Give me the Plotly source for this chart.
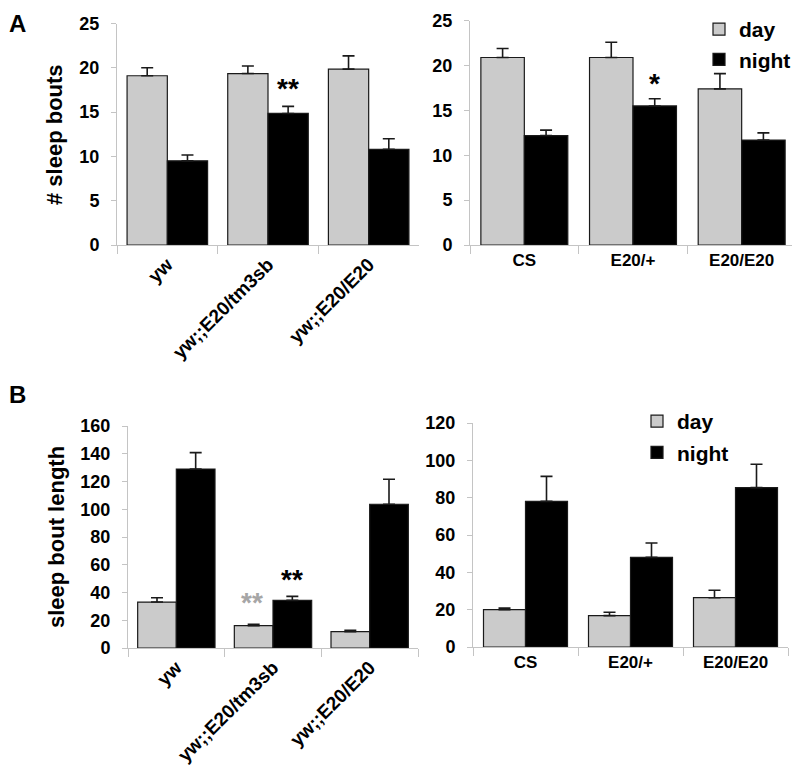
import plotly.graph_objects as go

# ---------------- data ----------------
cats_left = ["yw", "yw;;E20/tm3sb", "yw;;E20/E20"]
cats_right = ["CS", "E20/+", "E20/E20"]

# Panel A: # sleep bouts
a_left_day = [19.1, 19.35, 19.85]
a_left_day_err = [0.9, 0.85, 1.5]
a_left_night = [9.5, 14.85, 10.8]
a_left_night_err = [0.65, 0.8, 1.2]

a_right_day = [20.9, 20.9, 17.4]
a_right_day_err = [1.0, 1.7, 1.7]
a_right_night = [12.2, 15.5, 11.7]
a_right_night_err = [0.6, 0.8, 0.8]

# Panel B: sleep bout length
b_left_day = [33.1, 16.1, 11.8]
b_left_day_err = [3.1, 0.9, 0.9]
b_left_night = [129.0, 34.3, 103.6]
b_left_night_err = [11.8, 2.9, 18.0]

b_right_day = [20.0, 16.8, 26.4]
b_right_day_err = [0.9, 1.8, 4.0]
b_right_night = [78.0, 48.0, 85.4]
b_right_night_err = [13.4, 7.7, 12.5]

series_names = ["day", "night"]

# ---------------- style ----------------
FONT = "Liberation Sans, Arial, sans-serif"
DAY_COL = "#cbcbcb"
NIGHT_COL = "#000000"
AXIS_COL = "#c4c4c4"

# the page body has an 8px default margin: size the figure so it fits the window
OFF = 8
W, H = 800 - OFF, 775 - OFF

def fx(p):
    return (p - OFF) / W
def fy(p):
    return (H - (p - OFF)) / H
def px_x(a, b):
    return [fx(a), fx(b)]
def px_y(top, bottom):
    return [fy(bottom), fy(top)]

fig = go.Figure()

panels = [
    ("x", "y", cats_left, a_left_day, a_left_day_err, a_left_night, a_left_night_err, None),
    ("x2", "y2", cats_right, a_right_day, a_right_day_err, a_right_night, a_right_night_err, "legend"),
    ("x3", "y3", cats_left, b_left_day, b_left_day_err, b_left_night, b_left_night_err, None),
    ("x4", "y4", cats_right, b_right_day, b_right_day_err, b_right_night, b_right_night_err, "legend2"),
]

for xa, ya, cats, d, de, n, ne, leg in panels:
    for name, vals, errs, col in [(series_names[0], d, de, DAY_COL), (series_names[1], n, ne, NIGHT_COL)]:
        fig.add_trace(go.Bar(
            x=cats, y=vals, name=name,
            xaxis=xa, yaxis=ya,
            marker=dict(color=col, line=dict(color="#1a1a1a", width=1.2)),
            error_y=dict(type="data", symmetric=False, array=errs,
                         arrayminus=[0] * len(errs),
                         color="#1a1a1a", thickness=1.6, width=6),
            showlegend=leg is not None,
            legend=leg if leg else "legend",
            legendgroup=(leg or "") + name,
        ))

def xaxis_style(domain, angle, anchor, size):
    return dict(domain=domain, anchor=anchor, type="category", range=[-0.5, 2.5],
                showline=True, linecolor=AXIS_COL, linewidth=1,
                ticks="outside", tickson="boundaries", ticklen=8, tickcolor=AXIS_COL,
                tickangle=angle, showgrid=False, zeroline=False, automargin=False,
                tickfont=dict(family=FONT, size=size, color="black", weight="bold"))

def yaxis_style(domain, rng, dtick, anchor):
    return dict(domain=domain, anchor=anchor, range=rng, dtick=dtick,
                showline=True, linecolor=AXIS_COL, linewidth=1,
                ticks="outside", ticklen=5, tickcolor=AXIS_COL,
                ticklabelstandoff=8, automargin=False,
                showgrid=False, zeroline=False,
                tickfont=dict(family=FONT, size=18, color="black", weight="bold"))

legend_font = dict(family=FONT, size=21, color="black", weight="bold")

fig.update_layout(
    width=W, height=H,
    margin=dict(l=0, r=0, t=0, b=0, autoexpand=False),
    paper_bgcolor="white", plot_bgcolor="white",
    barmode="group", bargap=0.2, bargroupgap=0,
    font=dict(family=FONT, color="black"),
    xaxis=xaxis_style(px_x(117, 419), -45, "y", 19),
    yaxis=yaxis_style(px_y(23.5, 245), [0, 25], 5, "x"),
    xaxis2=xaxis_style(px_x(470, 796), 0, "y2", 17),
    yaxis2=yaxis_style(px_y(20.7, 245), [0, 25], 5, "x2"),
    xaxis3=xaxis_style(px_x(128, 418), -45, "y3", 19),
    yaxis3=yaxis_style(px_y(426, 648), [0, 160], 20, "x3"),
    xaxis4=xaxis_style(px_x(473, 788), 0, "y4", 17),
    yaxis4=yaxis_style(px_y(423, 647), [0, 120], 20, "x4"),
    legend=dict(x=fx(699), y=fy(OFF + 1), xanchor="left", yanchor="top",
                font=legend_font, bgcolor="rgba(0,0,0,0)",
                traceorder="grouped", tracegroupgap=0),
    legend2=dict(x=fx(637), y=fy(401), xanchor="left", yanchor="top",
                 font=legend_font, bgcolor="rgba(0,0,0,0)",
                 traceorder="grouped", tracegroupgap=1),
)

ann_font = dict(family=FONT, color="black", weight="bold")
def label(text, x, y, size, angle=0, yanchor="middle"):
    return dict(text=text, x=fx(x), y=fy(y), xref="paper", yref="paper",
                xanchor="center", yanchor=yanchor, textangle=angle,
                showarrow=False, font=dict(size=size, **ann_font))

annotations = [
    label("A", 17, OFF, 24, yanchor="top"),
    label("B", 17, 395, 24),
    label("# sleep bouts", 55, 135, 22, -90),
    label("sleep bout length", 56, 537, 22, -90),
    dict(text="**", x=1.2, y=15.7, xref="x", yref="y", yanchor="bottom",
         showarrow=False, font=dict(size=28, **ann_font)),
    dict(text="*", x=1.2, y=16.1, xref="x2", yref="y2", yanchor="bottom",
         showarrow=False, font=dict(size=28, **ann_font)),
    dict(text="**", x=0.78, y=20.0, xref="x3", yref="y3", yanchor="bottom",
         showarrow=False, font=dict(size=28, family=FONT, color="#a6a6a6", weight="bold")),
    dict(text="**", x=1.2, y=37.0, xref="x3", yref="y3", yanchor="bottom",
         showarrow=False, font=dict(size=28, **ann_font)),
]
fig.update_layout(annotations=annotations)

fig.write_html("out.html")
